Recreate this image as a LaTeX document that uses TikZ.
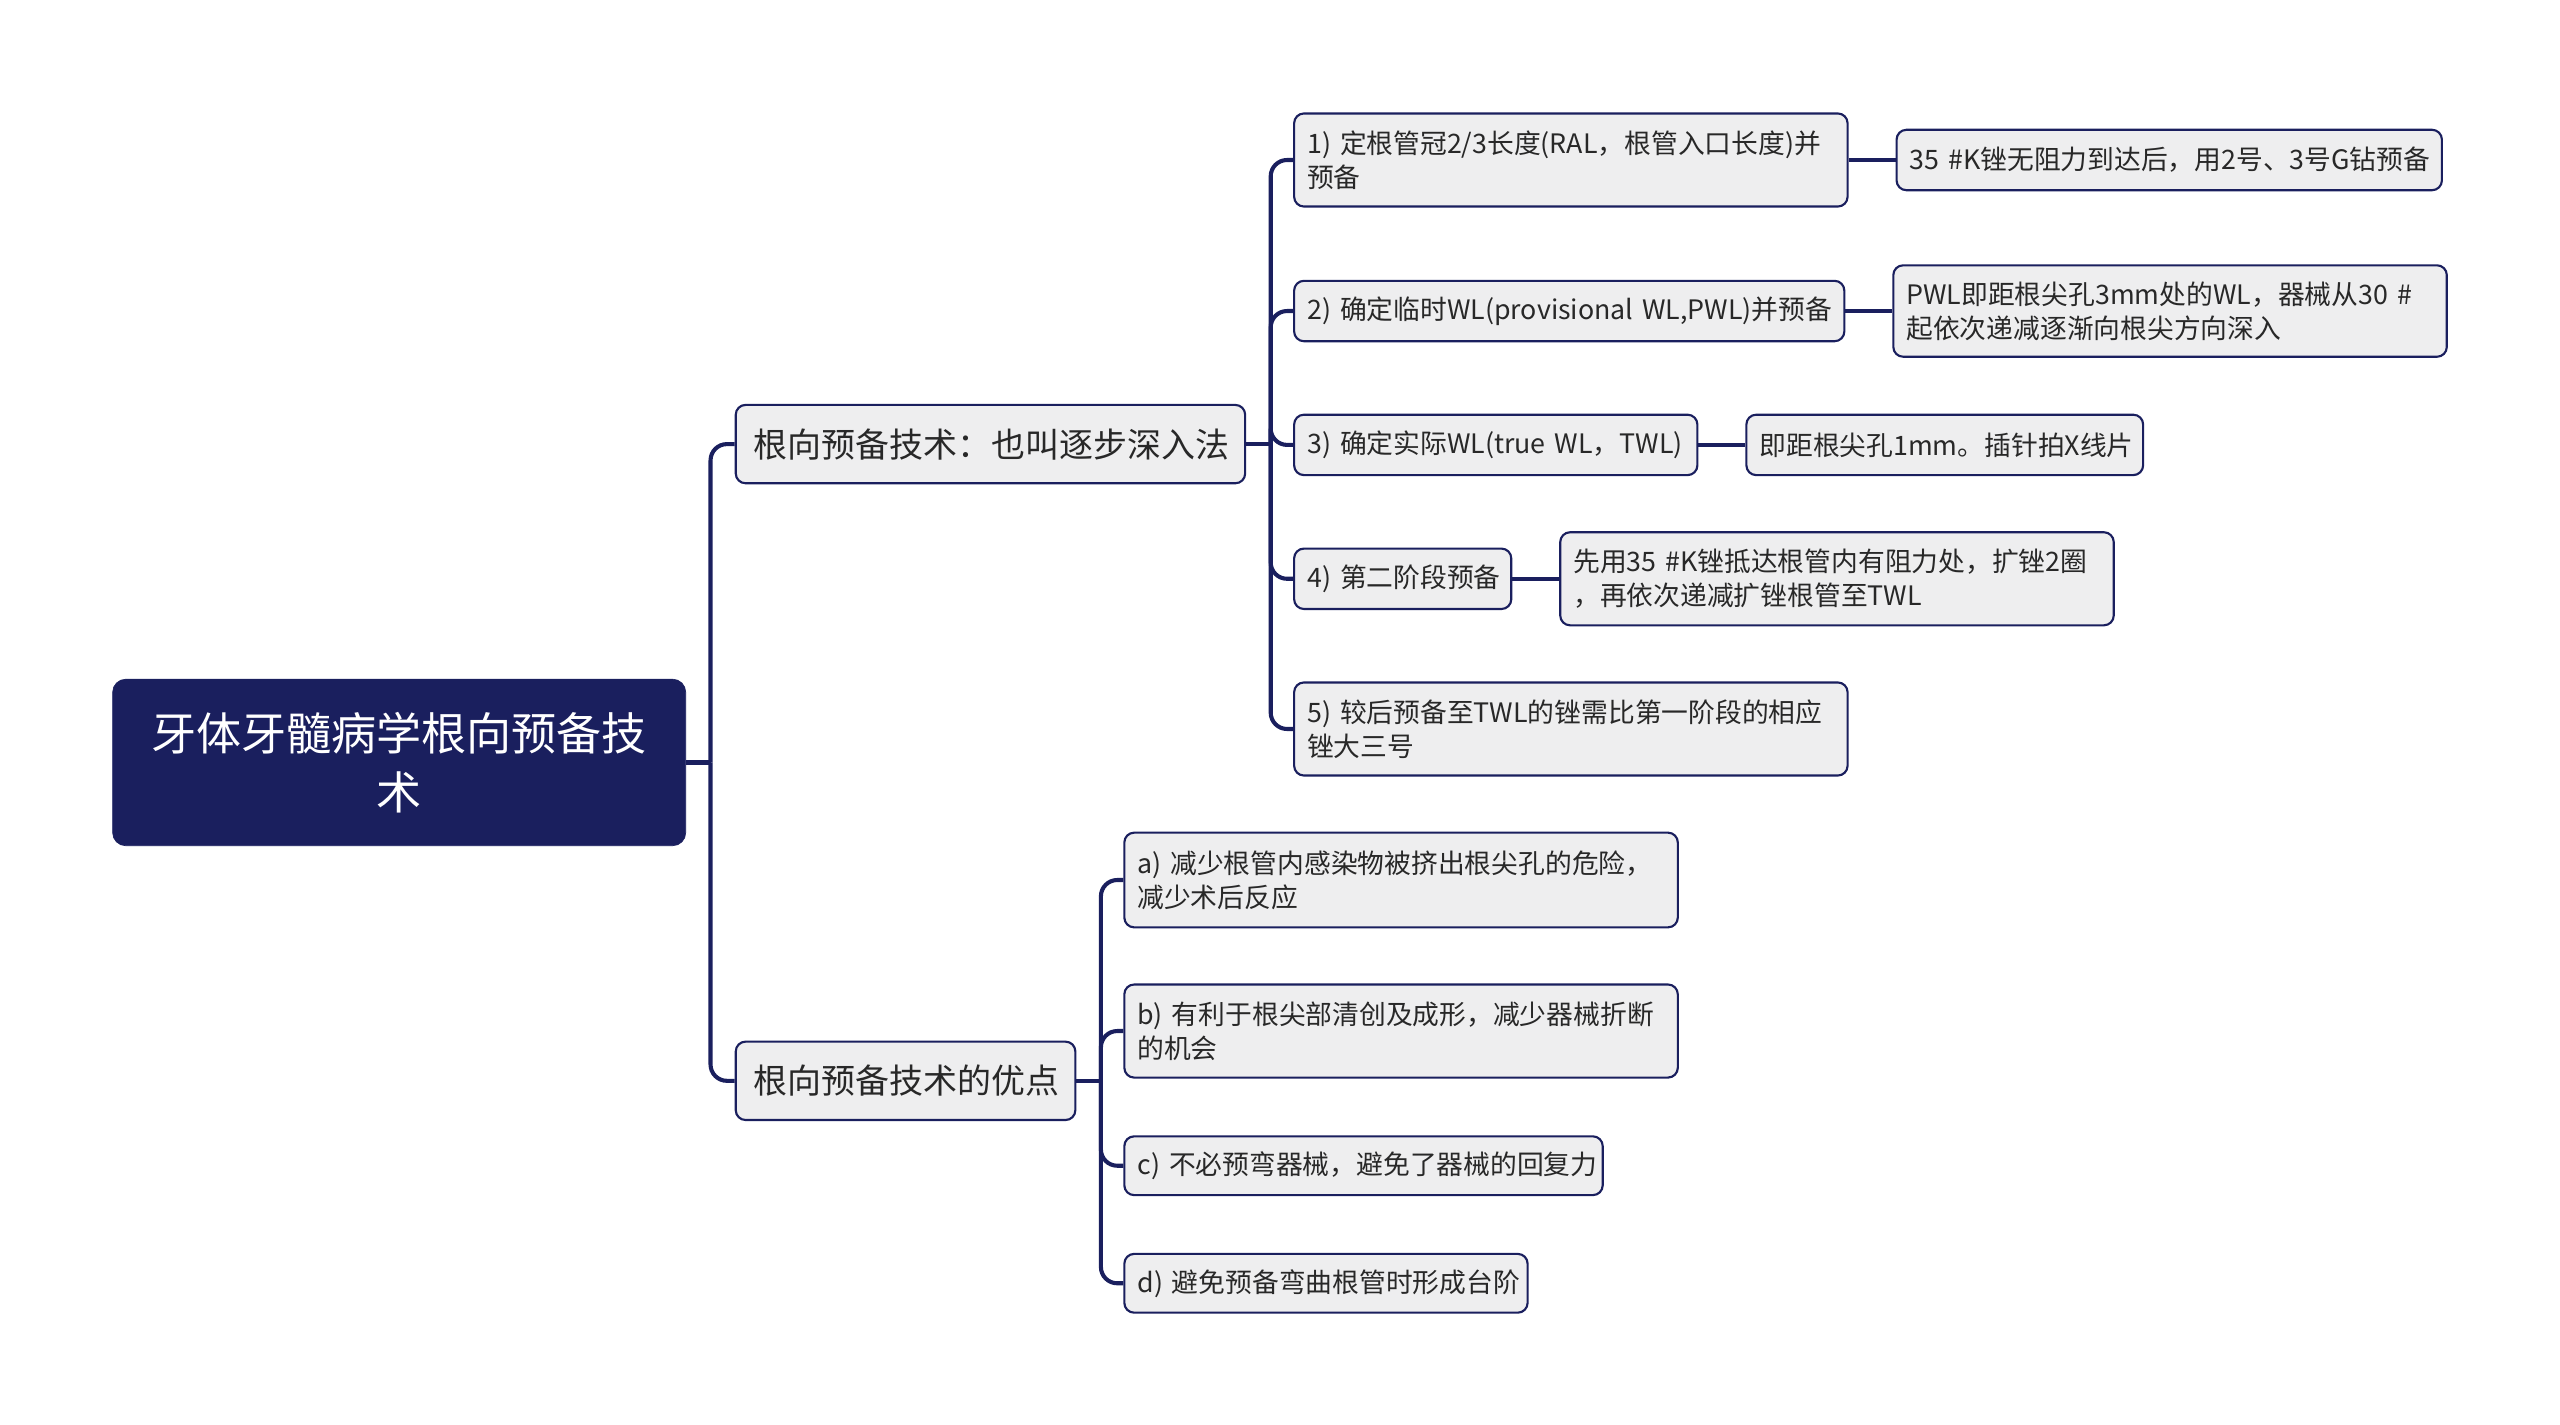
\documentclass[tikz,border=0pt]{standalone}
\usepackage{fontspec}
\setmainfont{Noto Sans CJK SC}
\definecolor{navy}{RGB}{26,31,94}
\definecolor{boxgray}{RGB}{238,238,239}
\definecolor{txt}{RGB}{40,40,40}
\begin{document}
\begin{tikzpicture}[x=1pt,y=-1pt,
  box/.style={draw=navy, fill=boxgray, rounded corners=6pt, line width=1.3pt, anchor=west,
    inner xsep=8pt, inner ysep=2pt, align=left, text=txt, font=\fontsize{16.4}{21}\selectfont},
  lvl/.style={box, font=\fontsize{20.8}{26}\selectfont, inner xsep=11pt},
  rootbox/.style={fill=navy, draw=navy, rounded corners=8pt, text=white, align=center,
    font=\fontsize{27.6}{36}\selectfont, minimum width=351pt, minimum height=102pt, inner sep=0pt},
  conn/.style={draw=navy, line width=2.5pt, rounded corners=10pt},
  stem/.style={draw=navy, line width=2.5pt},
]
\useasboundingbox (0,0) rectangle (1568,872.8);

% root
\node[rootbox] (root) at (244.5,467) {牙体牙髓病学根向预备技\\术};

% level 1
\node[lvl, text width=290pt, minimum height=48pt] (A) at (450,272) {\mbox{根向预备技术：也叫逐步深入法}};
\node[lvl, text width=186pt, minimum height=48pt] (B) at (450,662) {\mbox{根向预备技术的优点}};

% children of A
\node[box, text width=323pt, minimum height=57pt] (n1) at (792,98) {\mbox{1) 定根管冠2/3长度(RAL，根管入口长度)并}\\\mbox{预备}};
\node[box, text width=318pt, minimum height=37pt] (n1c) at (1161,98) {\mbox{35 \#K锉无阻力到达后，用2号、3号G钻预备}};

\node[box, text width=321pt, minimum height=37pt] (n2) at (792,190.5) {\mbox{2) 确定临时WL(provisional WL,PWL)并预备}};
\node[box, text width=323pt, minimum height=56pt] (n2c) at (1159,190.5) {\mbox{PWL即距根尖孔3mm处的WL，器械从30 \#}\\\mbox{起依次递减逐渐向根尖方向深入}};

\node[box, text width=231pt, minimum height=37pt] (n3) at (792,272.5) {\mbox{3) 确定实际WL(true WL，TWL)}};
\node[box, text width=227pt, minimum height=37pt] (n3c) at (1069,272.5) {\mbox{即距根尖孔1mm。插针拍X线片}};

\node[box, text width=117pt, minimum height=37pt] (n4) at (792,354.5) {\mbox{4) 第二阶段预备}};
\node[box, text width=323pt, minimum height=57pt] (n4c) at (955,354.5) {\mbox{先用35 \#K锉抵达根管内有阻力处，扩锉2圈}\\\mbox{，再依次递减扩锉根管至TWL}};

\node[box, text width=323pt, minimum height=57pt] (n5) at (792,446.5) {\mbox{5) 较后预备至TWL的锉需比第一阶段的相应}\\\mbox{锉大三号}};

% children of B
\node[box, text width=323pt, minimum height=58pt] (na) at (688,539) {\mbox{a) 减少根管内感染物被挤出根尖孔的危险，}\\\mbox{减少术后反应}};
\node[box, text width=323pt, minimum height=57pt] (nb) at (688,631.5) {\mbox{b) 有利于根尖部清创及成形，减少器械折断}\\\mbox{的机会}};
\node[box, text width=277pt, minimum height=36pt] (nc) at (688,714) {\mbox{c) 不必预弯器械，避免了器械的回复力}};
\node[box, text width=231pt, minimum height=36pt] (nd) at (688,786) {\mbox{d) 避免预备弯曲根管时形成台阶}};

% junction points
\coordinate (rj) at ([xshift=15pt]root.east);
\coordinate (aj) at ([xshift=15pt]A.east);
\coordinate (bj) at ([xshift=15pt]B.east);

% connectors
\draw[stem] (root.east) -- (rj);
\draw[conn] (rj) |- (A.west);
\draw[conn] (rj) |- (B.west);

\draw[stem] (A.east) -- (aj);
\foreach \c in {n1,n2,n3,n4,n5}
  \draw[conn] (aj) |- (\c.west);
\draw[stem] (B.east) -- (bj);
\foreach \c in {na,nb,nc,nd}
  \draw[conn] (bj) |- (\c.west);

\draw[stem] (n1.east) -- (n1c.west);
\draw[stem] (n2.east) -- (n2c.west);
\draw[stem] (n3.east) -- (n3c.west);
\draw[stem] (n4.east) -- (n4c.west);
\end{tikzpicture}
\end{document}
